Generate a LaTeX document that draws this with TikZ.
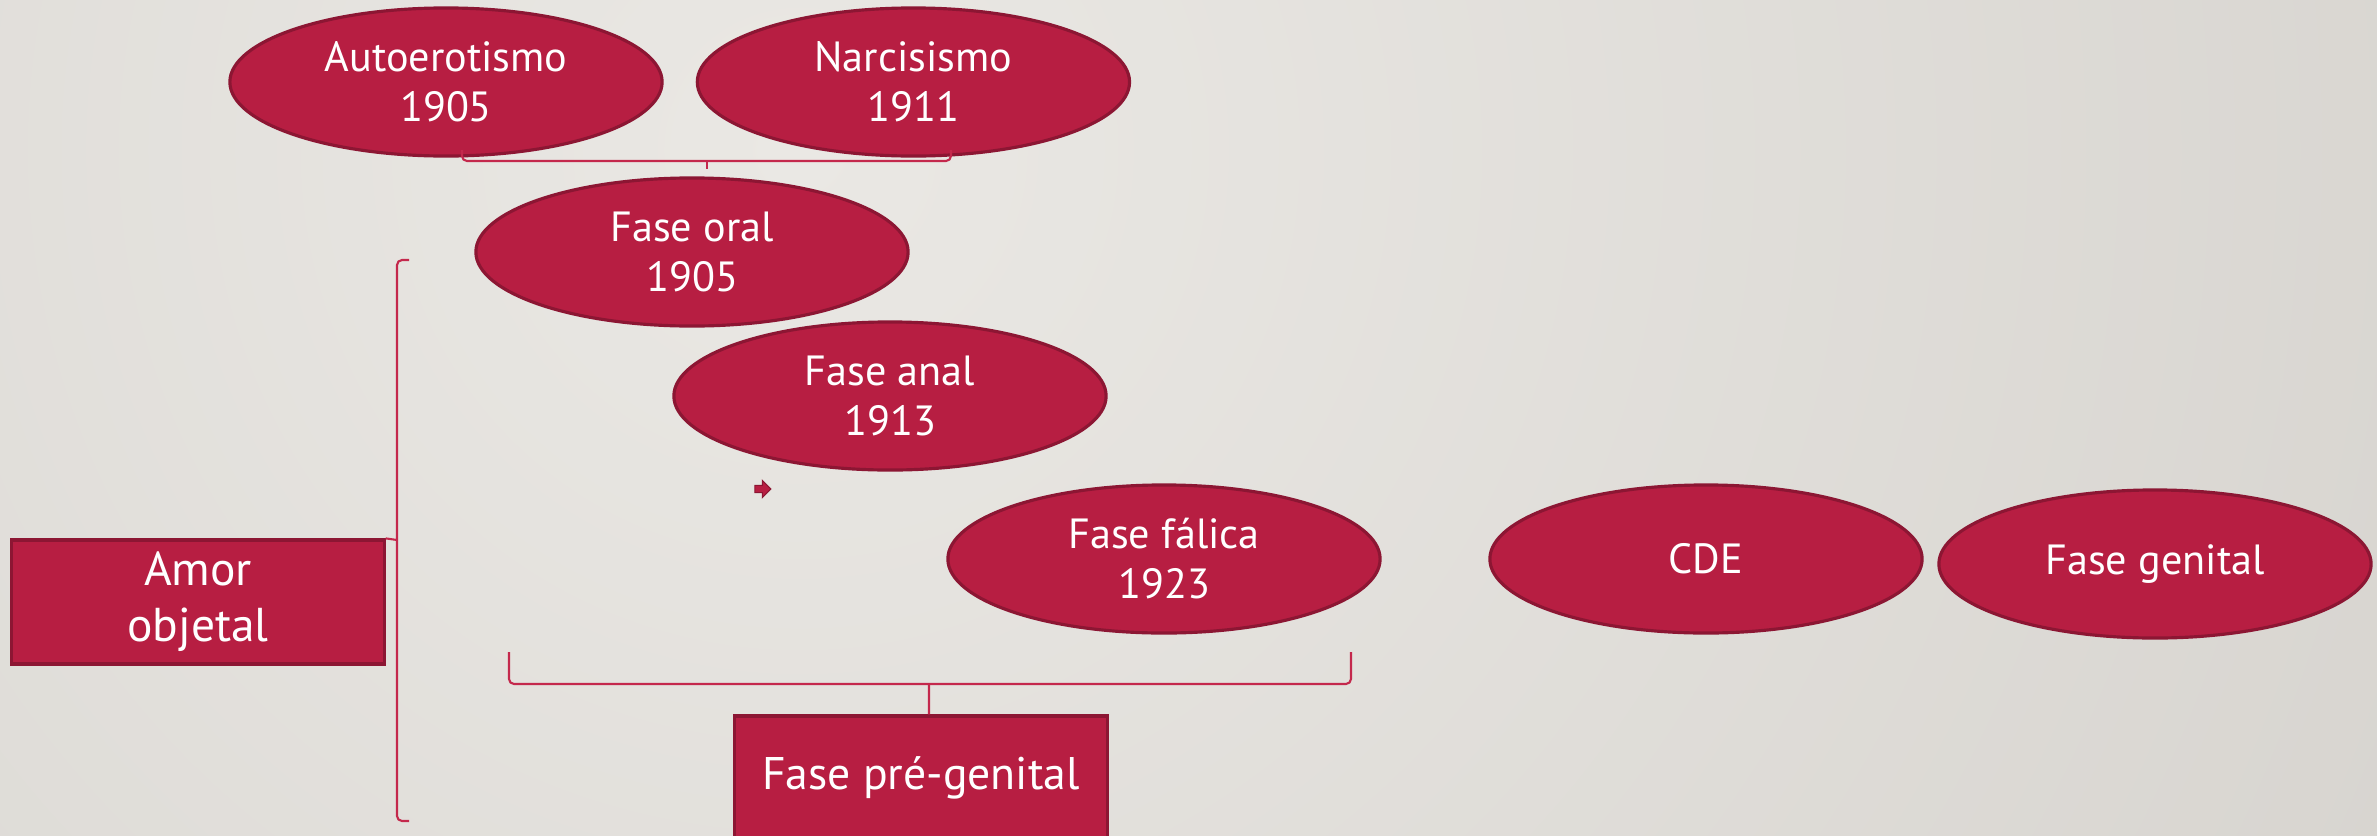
\documentclass[tikz,border=0pt]{standalone}
\usepackage{fontspec}
\setmainfont{PT Sans}
\usepackage{tikz}
\usetikzlibrary{shapes,shapes.arrows,positioning}
\definecolor{crimson}{HTML}{B71E42}
\definecolor{crimsondark}{HTML}{8C1633}
\definecolor{bracered}{HTML}{C4284C}
\definecolor{bglight}{HTML}{EAE8E4}
\definecolor{bgdark}{HTML}{D5D2CD}

\begin{document}
\begin{tikzpicture}[x=0.01cm, y=-0.01cm]
% STYLES
\tikzset{
    ellips/.style={ellipse, draw=crimsondark, fill=crimson, line width=0.9pt,
    text=white, align=center, inner sep=0pt, minimum width=4.32cm,
    minimum height=1.48cm, font=\fontsize{12}{14.2}\selectfont},
    box/.style={rectangle, draw=crimsondark, fill=crimson, line width=0.9pt,
    text=white, align=center, inner sep=0pt, minimum width=3.72cm,
    minimum height=1.24cm, font=\fontsize{13.5}{16}\selectfont},
    brace/.style={draw=bracered, line width=0.6pt, rounded corners=0.05cm}
}

% background
\useasboundingbox (0,0) rectangle (2377,836);
\shade[inner color=bglight, outer color=bgdark] (800,150) circle (2000);

\node [ellips] (Auto) at (446,82) {Autoerotismo\\1905};
\node [ellips, right=0.32cm of Auto] (Narc) {Narcisismo\\1911};
\node [ellips] (Oral) at (692,252) {Fase oral\\1905};
\node [ellips] (Anal) at (890,396) {Fase anal\\1913};
\node [ellips] (Falica) at (1164,559) {Fase fálica\\1923};
\node [ellips] (CDE) at (1706,559) {CDE};
\node [ellips] (Genital) at (2155,564) {Fase genital};

\node [box] (Amor) at (198,602) {Amor\\objetal};
\node [box, font=\fontsize{13}{15.5}\selectfont] (Pregen) at (921,778) {Fase pré-genital};

\node [single arrow, fill=crimson, draw=crimsondark, line width=0.3pt,
  inner xsep=0pt, inner ysep=0.025cm, minimum height=0.16cm, minimum width=0.17cm,
  single arrow head extend=0.04cm] (pointer) at (761,489) {};

% Draw the braces
\coordinate (toptip) at (707,169);
\draw[brace] (462,150) |- (707,161) -| (951,150);
\draw[brace] (707,161) -- (toptip);

\draw[brace] (409,260) -| (397,540) |- (409,821);
\draw[brace] (397,540) -- (Amor.north east);

\draw[brace] (509,652) |- (929,684) -| (1351,652);
\draw[brace] (929,684) -- ([xshift=0.08cm]Pregen.north);
\end{tikzpicture}
\end{document}
